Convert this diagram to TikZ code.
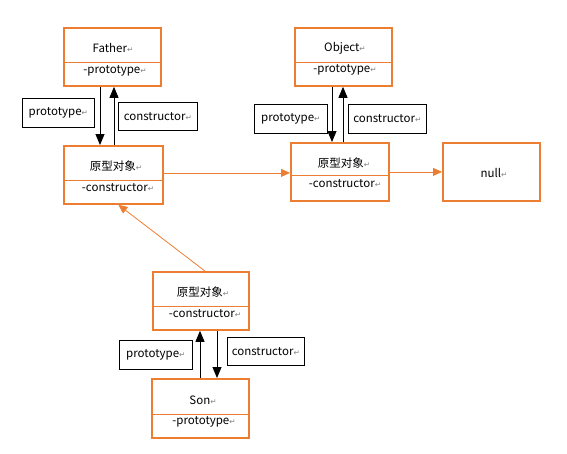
\documentclass[tikz,border=0pt]{standalone}
\usepackage{fontspec}
\setmainfont{Noto Sans CJK SC}
\newfontfamily\symfont{DejaVu Sans}
\usetikzlibrary{arrows.meta}
\definecolor{orn}{HTML}{ED7D31}
\newcommand{\parmk}{{\symfont\color{gray}\fontsize{7.5}{7.5}\selectfont ↵}}
\begin{document}
\begin{tikzpicture}[x=1pt,y=-1pt,
  font=\fontsize{11.5}{13}\selectfont,
  obox/.style={draw=orn, line width=1.8pt, minimum width=97pt, minimum height=58pt, inner sep=0pt, anchor=north west},
  lbox/.style={draw, line width=0.6pt, inner sep=0pt, anchor=north west, minimum height=29pt},
  txt/.style={inner sep=0pt},
  div/.style={draw=orn, line width=0.5pt},
  blk/.style={-{Triangle[length=11pt,width=9pt]}, line width=0.9pt},
  org/.style={draw=orn, line width=0.8pt, -{Triangle[length=9pt,width=8pt]}, orn}]
\useasboundingbox (0,0) rectangle (567,453);

% Father
\node[obox] (father) at (63,27) {};
\draw[div] ([yshift=-35pt]father.north west) -- ([yshift=-35pt]father.north east);
\node[txt] (fatherT) at (113,48) {Father\parmk};
\node[txt] (fatherP) at (115,71) {-prototype\parmk};

% Father prototype object
\node[obox, minimum width=99pt] (fproto) at (63,145) {};
\draw[div] ([yshift=-35pt]fproto.north west) -- ([yshift=-35pt]fproto.north east);
\node[txt] (fprotoT) at (116,166) {原型对象\parmk};
\node[txt] (fprotoC) at (118,188) {-constructor\parmk};

% Object
\node[obox] (object) at (294,27) {};
\draw[div] ([yshift=-35pt]object.north west) -- ([yshift=-35pt]object.north east);
\node[txt] (objectT) at (345,48) {Object\parmk};
\node[txt] (objectP) at (345,70) {-prototype\parmk};

% Object prototype object
\node[obox, minimum width=98pt] (oproto) at (290,142) {};
\draw[div] ([yshift=-33pt]oproto.north west) -- ([yshift=-33pt]oproto.north east);
\node[txt] (oprotoT) at (344,163) {原型对象\parmk};
\node[txt] (oprotoC) at (345,184) {-constructor\parmk};

% null
\node[obox] (null) at (442,142) {};
\node[txt] (nullT) at (494,173) {null\parmk};

% Son prototype object
\node[obox, minimum width=96pt] (sproto) at (152,271) {};
\draw[div] ([yshift=-35pt]sproto.north west) -- ([yshift=-35pt]sproto.north east);
\node[txt] (sprotoT) at (203,292) {原型对象\parmk};
\node[txt] (sprotoC) at (205,314) {-constructor\parmk};

% Son
\node[obox, minimum height=59pt] (son) at (151,378) {};
\draw[div] ([yshift=-36pt]son.north west) -- ([yshift=-36pt]son.north east);
\node[txt] (sonT) at (203,400) {Son\parmk};
\node[txt] (sonP) at (204,422) {-prototype\parmk};

% label boxes
\node[lbox, minimum width=72pt] (p1) at (22,98) {prototype\parmk};
\node[lbox, minimum width=79pt, minimum height=28pt] (c1) at (118,102) {constructor\parmk};
\node[lbox, minimum width=73pt] (p2) at (254,104) {prototype\parmk};
\node[lbox, minimum width=78pt] (c2) at (348,104) {constructor\parmk};
\node[lbox, minimum width=73pt] (p3) at (119,340) {prototype\parmk};
\node[lbox, minimum width=77pt, minimum height=28pt] (c3) at (227,337) {constructor\parmk};

% black arrows
\draw[blk] (father.south -| 100,0) -- (fproto.north -| 100,0);
\draw[blk] (fproto.north -| 114,0) -- (father.south -| 114,0);
\draw[blk] (object.south -| 332,0) -- (oproto.north -| 332,0);
\draw[blk] (oproto.north -| 343,0) -- (object.south -| 343,0);
\draw[blk] (son.north -| 200,0) -- (sproto.south -| 200,0);
\draw[blk] (sproto.south -| 217,0) -- (son.north -| 217,0);

% orange arrows
\draw[org] ([yshift=2pt]fproto.east) -- ([yshift=-1pt]oproto.west);
\draw[org] (oproto.east) -- (null.west);
\draw[org] ([xshift=4pt]sproto.north) -- ([xshift=5pt]fproto.south);
\end{tikzpicture}
\end{document}
